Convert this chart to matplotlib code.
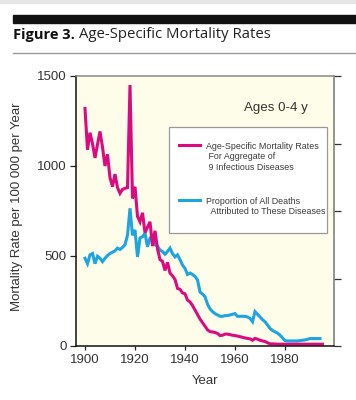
import numpy as np
import matplotlib
matplotlib.use('Agg')
import matplotlib.pyplot as plt
from matplotlib.patches import Rectangle
from matplotlib.lines import Line2D
from matplotlib.offsetbox import DrawingArea

# age-specific mortality rate, per 100 000 per year
rate_years = list(range(1900, 1996))
rate = [1320, 1090, 1185, 1125, 1045, 1120, 1192, 1105, 1000, 1065,
        935, 885, 955, 880, 848, 870, 876, 880, 1450, 820,
        885, 720, 690, 740, 630, 660, 690, 555, 640, 540,
        480, 470, 420, 465, 405, 390, 370, 320, 315, 295,
        290, 255, 245, 225, 200, 175, 150, 130, 110, 90,
        80, 78, 75, 70, 58, 60, 66, 66, 63, 60,
        58, 55, 52, 48, 45, 42, 40, 32, 42, 38,
        32, 28, 25, 18, 12, 12, 11, 10, 10, 10,
        10, 10, 10, 10, 10, 10, 10, 10, 10, 10,
        10, 10, 10, 10, 10, 10]

# proportion of all deaths (%), right scale
prop_years = list(range(1900, 1995))
prop = [13.0, 12.2, 13.5, 13.7, 12.2, 13.3, 13.0, 12.5, 13.0, 13.4,
        13.7, 13.9, 14.1, 14.5, 14.3, 14.6, 15.0, 16.4, 20.4, 16.4,
        17.2, 13.2, 16.0, 16.2, 16.7, 14.7, 16.0, 16.2, 15.0, 14.8,
        14.2, 14.0, 13.6, 14.0, 14.5, 13.7, 13.2, 13.5, 12.8, 12.0,
        11.5, 10.6, 10.8, 10.6, 10.3, 9.8, 8.0, 7.7, 7.3, 6.2,
        5.5, 5.1, 4.8, 4.6, 4.4, 4.4, 4.5, 4.5, 4.6, 4.7,
        4.8, 4.4, 4.4, 4.4, 4.4, 4.3, 4.1, 3.6, 5.1, 4.7,
        4.3, 3.9, 3.6, 3.1, 2.6, 2.3, 2.1, 1.9, 1.6, 1.2,
        0.8, 0.75, 0.75, 0.75, 0.75, 0.75, 0.8, 0.85, 0.9, 1.0,
        1.1, 1.1, 1.1, 1.1, 1.1]

x_ticks = [1900, 1920, 1940, 1960, 1980]
y_ticks = [0, 500, 1000, 1500]
prop_ticks = [0, 10, 20, 30, 40]

lab_rate = 'Age-Specific Mortality Rates\n For Aggregate of\n 9 Infectious Diseases'
lab_prop = 'Proportion of All Deaths\n  Attributed to These Diseases'

MAG = '#dc0a80'
BLUE = '#1ea4e0'
TXT = '#333333'
plt.rcParams['font.family'] = ['Liberation Sans', 'DejaVu Sans']

fig = plt.figure(figsize=(3.56, 4.0), dpi=100)
W, H = 356.0, 400.0

# header decoration
fig.patches.append(Rectangle((0, 1 - 3 / H), 1, 3 / H, transform=fig.transFigure,
                             color='#e6e6e6', zorder=0))
fig.patches.append(Rectangle((12.7 / W, 1 - 22.7 / H), 1, 7.7 / H, transform=fig.transFigure,
                             color='#111111', zorder=1))
fig.lines.append(Line2D([12.7 / W, 1], [1 - 53.3 / H] * 2, transform=fig.transFigure,
                        color='#999999', lw=1.0))
title_font = ['Open Sans', 'DejaVu Sans']
t1 = fig.text(12.7 / W, 1 - 38.5 / H, 'Figure 3.', fontsize=10.5, fontweight='bold',
              family=title_font, color='#111111', va='baseline')
fig.canvas.draw()
bb = t1.get_window_extent(fig.canvas.get_renderer())
fig.text((bb.x1 + 4) / W, 1 - 38.5 / H, 'Age-Specific Mortality Rates', fontsize=10.7,
         family=title_font, color='#222222', va='baseline')

ax = fig.add_axes([76 / W, 54 / H, 258 / W, 270 / H])
ax2 = ax.twinx()
ax.set_zorder(ax2.get_zorder() + 1)
ax.patch.set_visible(False)
ax2.patch.set_visible(True)
ax2.patch.set_facecolor('#fefde9')

l2, = ax2.plot(prop_years, prop, color=BLUE, lw=2.2, solid_joinstyle='miter')
l1, = ax.plot(rate_years, rate, color=MAG, lw=2.2, solid_joinstyle='miter')

ax.set_xlim(1896.4, 1999.6)
ax.set_ylim(0, 1500)
ax2.set_ylim(0, 40)
ax.set_xticks(x_ticks)
ax.set_yticks(y_ticks)
ax2.set_yticks(prop_ticks)
ax2.set_yticklabels([])

for s in ['left', 'bottom']:
    ax.spines[s].set_color('#111111')
    ax.spines[s].set_linewidth(1.1)
ax.spines['top'].set_color('#888888')
ax.spines['top'].set_linewidth(1.1)
ax.spines['right'].set_visible(False)
for s in ['left', 'bottom', 'top']:
    ax2.spines[s].set_visible(False)
ax2.spines['right'].set_color('#777777')
ax2.spines['right'].set_linewidth(1.1)

ax.tick_params(axis='y', length=4.5, width=0.9, pad=2.2, labelsize=9.5, labelcolor=TXT, color='#222222')
ax.tick_params(axis='x', length=3.2, width=0.9, pad=2.5, labelsize=9.5, labelcolor=TXT, color='#222222')
ax2.tick_params(axis='y', length=5.2, width=0.9, color='#333333')

ax.set_ylabel('Mortality Rate per 100 000 per Year', fontsize=9.5, color=TXT)
ax.yaxis.set_label_coords(-0.205, 0.517)
ax.set_xlabel('Year', fontsize=9.5, color=TXT)
ax.xaxis.set_label_coords(0.5, -0.109)

ax.text(0.775, 0.881, 'Ages 0-4 y', transform=ax.transAxes, fontsize=9.6, color=TXT,
        ha='center', va='center')

leg = ax.legend([l1, l2], [lab_rate, lab_prop], loc='upper left',
                bbox_to_anchor=(0.36, 0.811, 0.613, 0), mode='expand', borderaxespad=0,
                prop={'family': ['Liberation Sans', 'DejaVu Sans'], 'size': 6.4},
                handlelength=2.4, handletextpad=0.65, borderpad=1.1, labelspacing=2.85,
                fancybox=False, framealpha=1, edgecolor='#999999', handleheight=0.9)
leg.get_frame().set_linewidth(0.9)
for t in leg.get_texts():
    t.set_color('#3a3a3a')
for col in leg._legend_handle_box.get_children():
    for item in col.get_children():
        item.align = 'top'
# extra room above and below the entries
kids = leg._legend_box.get_children()
kids.insert(0, DrawingArea(1, 3.6))
kids.append(DrawingArea(1, 5.0))
leg._legend_box.sep = 0

fig.savefig('out.png', dpi=100)
